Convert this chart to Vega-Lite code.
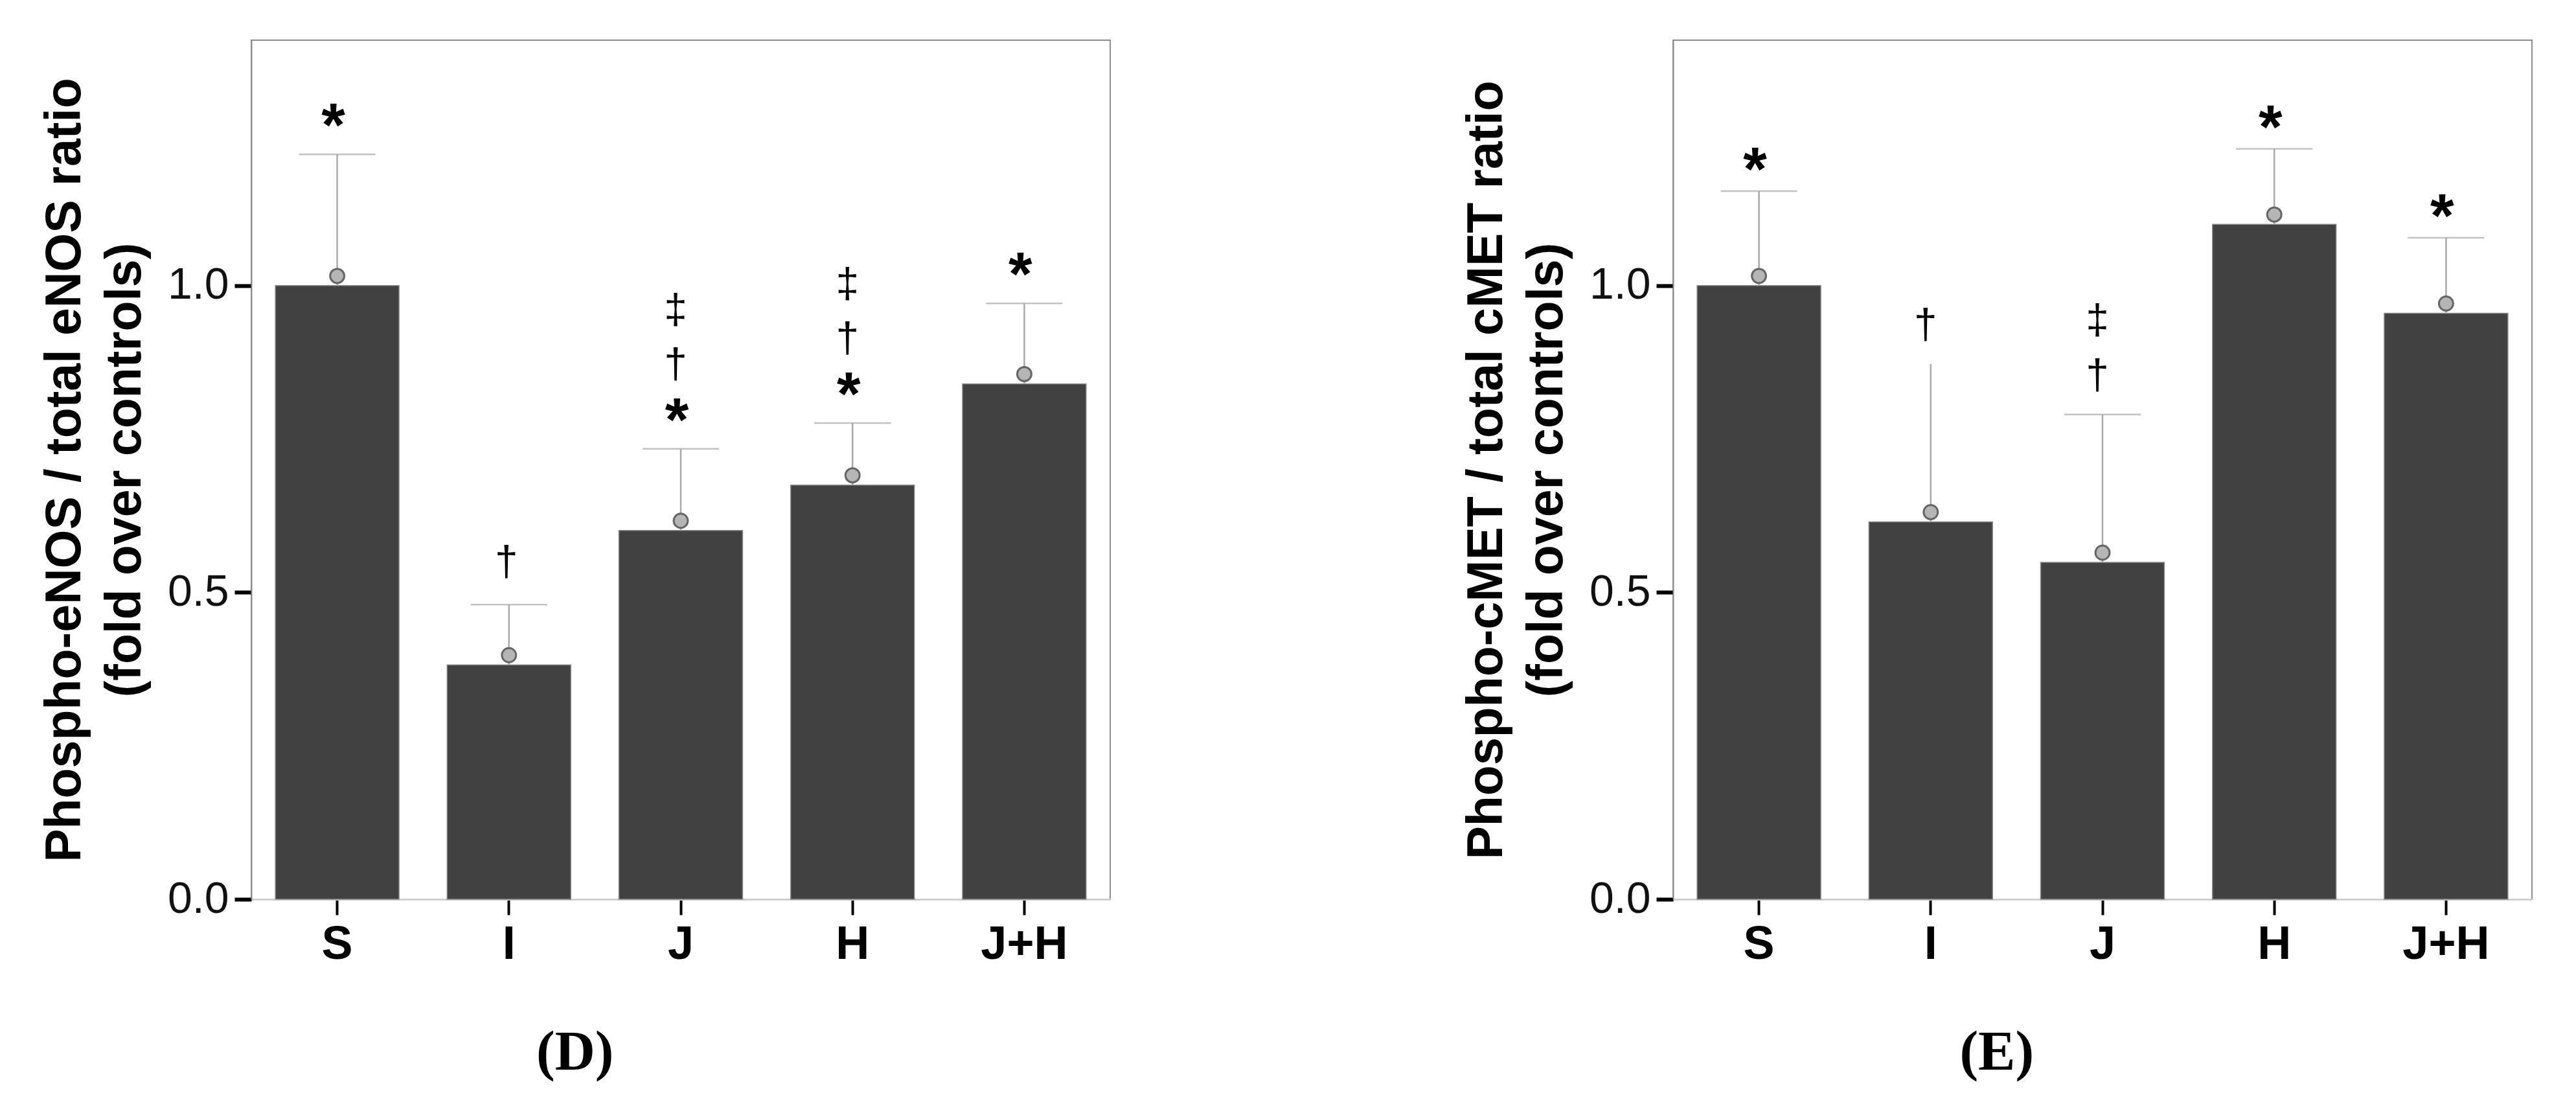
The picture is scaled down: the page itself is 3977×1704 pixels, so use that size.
{
  "$schema": "https://vega.github.io/schema/vega-lite/v6.json",
  "background": "white",
  "padding": {"left": 60, "top": 61, "right": 10, "bottom": 10},
  "spacing": 540,
  "config": {
    "font": "Liberation Sans",
    "view": {"stroke": "#8c8c8c", "strokeWidth": 2},
    "axisX": {
      "domainColor": "#cfcfcf", "domainWidth": 3,
      "tickColor": "#000000", "tickWidth": 4, "tickSize": 24,
      "labelFontSize": 72, "labelFontWeight": "bold", "labelColor": "#000000",
      "labelPadding": 10, "labelAngle": 0, "grid": false, "title": null
    },
    "axisY": {
      "domainColor": "#8c8c8c", "domainWidth": 2,
      "tickColor": "#000000", "tickWidth": 6, "tickSize": 26,
      "labelFontSize": 68, "labelColor": "#111111", "labelPadding": 9,
      "titleFontSize": 77, "titleFontWeight": "bold", "titleColor": "#000000",
      "titleLineHeight": 93, "titlePadding": 26, "grid": false
    }
  },
  "datasets": {
    "eNOS": [
      {"group": "S", "value": 1.0, "upper": 1.214, "star": "*", "dagger": "", "ddagger": ""},
      {"group": "I", "value": 0.382, "upper": 0.48, "star": "", "dagger": "†", "ddagger": ""},
      {"group": "J", "value": 0.601, "upper": 0.734, "star": "*", "dagger": "†", "ddagger": "‡"},
      {"group": "H", "value": 0.675, "upper": 0.776, "star": "*", "dagger": "†", "ddagger": "‡"},
      {"group": "J+H", "value": 0.84, "upper": 0.971, "star": "*", "dagger": "", "ddagger": ""}
    ],
    "cMET": [
      {"group": "S", "value": 1.0, "upper": 1.154, "star": "*", "dagger": "", "ddagger": ""},
      {"group": "I", "value": 0.615, "upper": 0.872, "star": "", "dagger": "†", "ddagger": ""},
      {"group": "J", "value": 0.549, "upper": 0.79, "star": "", "dagger": "†", "ddagger": "‡"},
      {"group": "H", "value": 1.1, "upper": 1.223, "star": "*", "dagger": "", "ddagger": ""},
      {"group": "J+H", "value": 0.955, "upper": 1.078, "star": "*", "dagger": "", "ddagger": ""}
    ]
  },
  "hconcat": [
    {
      "width": 1326, "height": 1326,
      "data": {"name": "eNOS"},
      "title": {"text": "(D)", "orient": "bottom", "anchor": "middle", "frame": "bounds", "font": "Liberation Serif", "fontWeight": "bold", "fontSize": 86, "color": "#000000", "baseline": "top", "offset": 90},
      "encoding": {
        "x": {"field": "group", "type": "nominal", "sort": null, "scale": {"paddingInner": 0.28, "paddingOuter": 0.14}, "axis": {"title": null}}
      },
      "layer": [
        {
          "mark": {"type": "bar", "color": "#414141", "stroke": "#8a8a8a", "strokeWidth": 1.5},
          "encoding": {"y": {"field": "value", "type": "quantitative", "scale": {"domain": [0, 1.4]}, "axis": {"values": [0, 0.5, 1], "format": ".1f", "title": ["Phospho-eNOS / total eNOS ratio", "(fold over controls)"]}}}
        },
        {
          "mark": {"type": "rule", "color": "#a8a8a8", "strokeWidth": 2.5},
          "encoding": {"y": {"field": "value", "type": "quantitative"}, "y2": {"field": "upper"}}
        },
        {
          "mark": {"type": "tick", "color": "#a8a8a8", "thickness": 2.5, "size": 118},
          "encoding": {"y": {"field": "upper", "type": "quantitative"}}
        },
        {
          "mark": {"type": "point", "shape": "circle", "filled": true, "fill": "#b5b5b5", "stroke": "#666666", "strokeWidth": 3, "size": 480, "yOffset": -15, "opacity": 1},
          "encoding": {"y": {"field": "value", "type": "quantitative"}}
        },
        {
          "transform": [{"filter": "datum.star"}],
          "mark": {"type": "text", "fontSize": 94, "fontWeight": "bold", "baseline": "alphabetic", "dy": -13, "dx": -6, "color": "#000000"},
          "encoding": {"y": {"field": "upper", "type": "quantitative"}, "text": {"field": "star"}}
        },
        {
          "transform": [{"filter": "datum.dagger && datum.star"}],
          "mark": {"type": "text", "fontSize": 64, "baseline": "alphabetic", "dy": -110, "dx": -8, "color": "#000000"},
          "encoding": {"y": {"field": "upper", "type": "quantitative"}, "text": {"field": "dagger"}}
        },
        {
          "transform": [{"filter": "datum.dagger && !datum.star"}],
          "mark": {"type": "text", "fontSize": 64, "baseline": "alphabetic", "dy": -45, "dx": -4, "color": "#000000"},
          "encoding": {"y": {"field": "upper", "type": "quantitative"}, "text": {"field": "dagger"}}
        },
        {
          "transform": [{"filter": "datum.ddagger"}],
          "mark": {"type": "text", "fontSize": 64, "baseline": "alphabetic", "dy": -194, "dx": -8, "color": "#000000"},
          "encoding": {"y": {"field": "upper", "type": "quantitative"}, "text": {"field": "ddagger"}}
        }
      ]
    },
    {
      "width": 1326, "height": 1326,
      "data": {"name": "cMET"},
      "title": {"text": "(E)", "orient": "bottom", "anchor": "middle", "frame": "bounds", "font": "Liberation Serif", "fontWeight": "bold", "fontSize": 86, "color": "#000000", "baseline": "top", "offset": 90},
      "encoding": {
        "x": {"field": "group", "type": "nominal", "sort": null, "scale": {"paddingInner": 0.28, "paddingOuter": 0.14}, "axis": {"title": null}}
      },
      "layer": [
        {
          "mark": {"type": "bar", "color": "#414141", "stroke": "#8a8a8a", "strokeWidth": 1.5},
          "encoding": {"y": {"field": "value", "type": "quantitative", "scale": {"domain": [0, 1.4]}, "axis": {"values": [0, 0.5, 1], "format": ".1f", "title": ["Phospho-cMET / total cMET ratio", "(fold over controls)"]}}}
        },
        {
          "mark": {"type": "rule", "color": "#a8a8a8", "strokeWidth": 2.5},
          "encoding": {"y": {"field": "value", "type": "quantitative"}, "y2": {"field": "upper"}}
        },
        {
          "transform": [{"filter": "datum.group != 'I'"}],
          "mark": {"type": "tick", "color": "#a8a8a8", "thickness": 2.5, "size": 118},
          "encoding": {"y": {"field": "upper", "type": "quantitative"}}
        },
        {
          "mark": {"type": "point", "shape": "circle", "filled": true, "fill": "#b5b5b5", "stroke": "#666666", "strokeWidth": 3, "size": 480, "yOffset": -15, "opacity": 1},
          "encoding": {"y": {"field": "value", "type": "quantitative"}}
        },
        {
          "transform": [{"filter": "datum.star"}],
          "mark": {"type": "text", "fontSize": 94, "fontWeight": "bold", "baseline": "alphabetic", "dy": -2, "dx": -6, "color": "#000000"},
          "encoding": {"y": {"field": "upper", "type": "quantitative"}, "text": {"field": "star"}}
        },
        {
          "transform": [{"filter": "datum.dagger"}],
          "mark": {"type": "text", "fontSize": 64, "baseline": "alphabetic", "dy": -40, "dx": -8, "color": "#000000"},
          "encoding": {"y": {"field": "upper", "type": "quantitative"}, "text": {"field": "dagger"}}
        },
        {
          "transform": [{"filter": "datum.ddagger"}],
          "mark": {"type": "text", "fontSize": 64, "baseline": "alphabetic", "dy": -125, "dx": -8, "color": "#000000"},
          "encoding": {"y": {"field": "upper", "type": "quantitative"}, "text": {"field": "ddagger"}}
        }
      ]
    }
  ]
}
